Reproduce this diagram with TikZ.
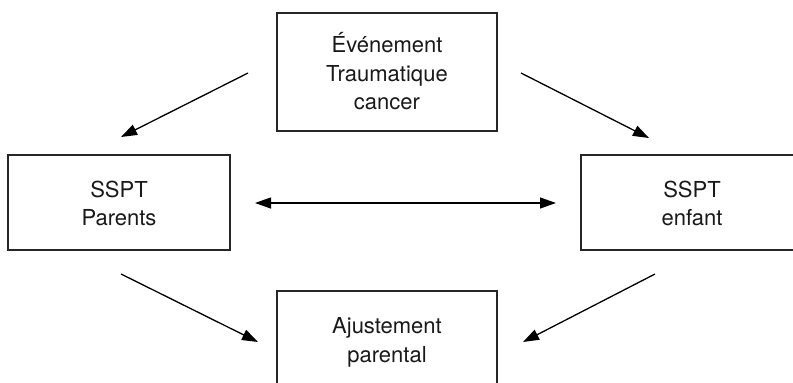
\documentclass[tikz,border=0pt]{standalone}
\usepackage{fontspec}
\setmainfont{TeX Gyre Heros}
\usetikzlibrary{arrows.meta}
\begin{document}
\begin{tikzpicture}[x=1pt,y=-1pt,
  boxnode/.style={draw=black!85,line width=1.3pt,rectangle,inner sep=0pt},
  txt/.style={align=center,inner sep=0pt,text=black!90,font=\fontsize{22}{28.5}\selectfont},
  arr/.style={line width=1.3pt,-{Triangle[length=16pt,width=11pt]}},
  darr/.style={line width=1.3pt,{Triangle[length=16pt,width=11pt]}-{Triangle[length=16pt,width=11pt]}}]
\useasboundingbox (0,0) rectangle (793,383);
\clip (0,0) rectangle (793,383);
% boxes
\node[boxnode,minimum width=220pt,minimum height=118pt] (top) at (387,72) {};
\node[boxnode,minimum width=222pt,minimum height=95pt] (left) at (119,202.5) {};
\node[boxnode,minimum width=222pt,minimum height=95pt] (right) at (692,202.5) {};
\node[boxnode,minimum width=220pt,minimum height=118pt] (bottom) at (387,350) {};
% texts
\node[txt] (toptxt) at (387,71.5) {Événement\\Traumatique\\cancer};
\node[txt] (lefttxt) at (119,203.5) {SSPT\\Parents};
\node[txt] (righttxt) at (692,203.5) {SSPT\\enfant};
\node[txt] (bottomtxt) at (387,342.5) {Ajustement\\parental};
% arrow end points
\coordinate (a1s) at (248,73);  \coordinate (a1e) at (121,137);
\coordinate (a2s) at (521,73);  \coordinate (a2e) at (649,138);
\coordinate (hL) at (255,203);  \coordinate (hR) at (556,203);
\coordinate (b1s) at (121,274); \coordinate (b1e) at (258,342);
\coordinate (b2s) at (655,274); \coordinate (b2e) at (523,342);
\draw[arr] (a1s) -- (a1e);
\draw[arr] (a2s) -- (a2e);
\draw[darr] (hL) -- (hR);
\draw[arr] (b1s) -- (b1e);
\draw[arr] (b2s) -- (b2e);
\end{tikzpicture}
\end{document}
